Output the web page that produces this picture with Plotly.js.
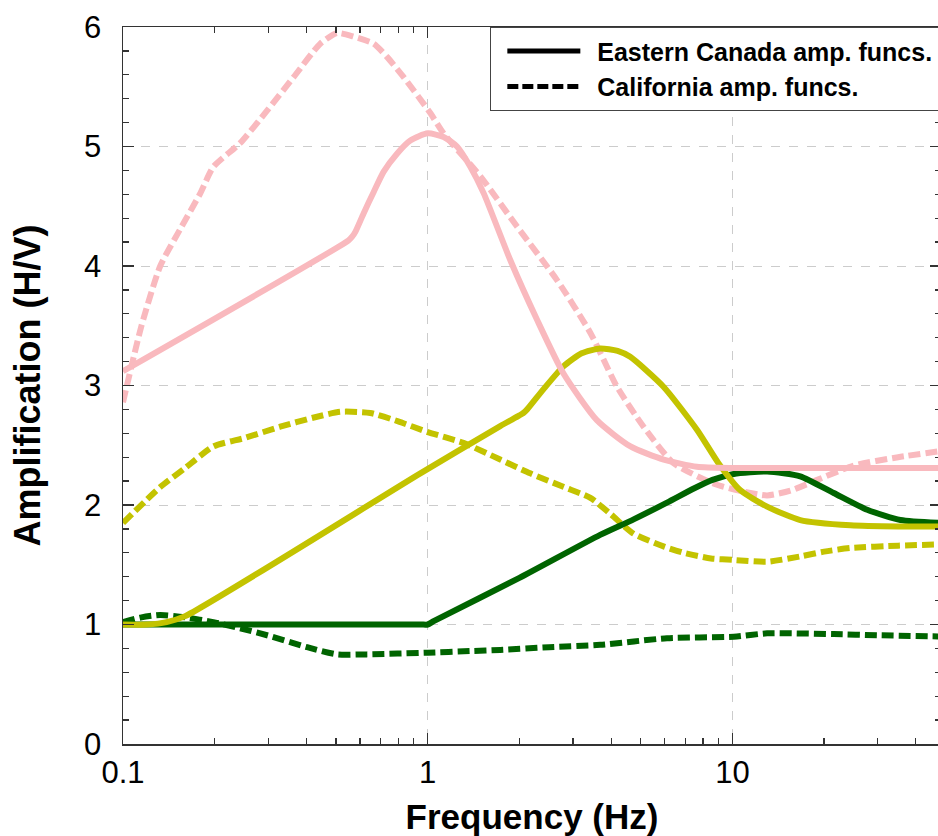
<!DOCTYPE html>
<html>
<head>
<meta charset="utf-8">
<script src="https://cdn.plot.ly/plotly-3.0.1.min.js"></script>
<style>
html,body{margin:0;padding:0;background:#fff;overflow:hidden;}
#chart{width:941px;height:836px;}
</style>
</head>
<body>
<div id="chart"></div>
<script>
// Frequencies (Hz) and amplification (H/V)
const pinkSolidX = [0.1, 0.55, 0.565, 0.58, 0.616, 0.665, 0.717, 0.793, 0.877, 1.0, 1.128, 1.248, 1.38, 1.526, 1.866, 2.285, 2.79, 3.59, 4.63, 5.95, 7.65, 10, 15, 20, 30, 47.8];
const pinkSolidY = [3.12, 4.215, 4.245, 4.29, 4.44, 4.62, 4.79, 4.94, 5.05, 5.11, 5.08, 5.0, 4.83, 4.61, 4.05, 3.55, 3.10, 2.71, 2.49, 2.38, 2.32, 2.31, 2.31, 2.31, 2.31, 2.31];

const pinkDashX = [0.1, 0.115, 0.1325, 0.155, 0.1795, 0.198, 0.2427, 0.297, 0.363, 0.444, 0.504, 0.571, 0.665, 0.735, 0.834, 1.02, 1.127, 1.489, 1.964, 2.66, 3.42, 4.18, 5.11, 6.41, 8.67, 10.5, 13.0, 15.5, 18.97, 25.0, 35, 47.8];
const pinkDashY = [2.86, 3.5, 4.0, 4.32, 4.61, 4.83, 5.03, 5.3, 5.58, 5.86, 5.95, 5.92, 5.86, 5.75, 5.58, 5.28, 5.11, 4.75, 4.33, 3.88, 3.44, 2.99, 2.655, 2.35, 2.18, 2.12, 2.08, 2.12, 2.21, 2.33, 2.40, 2.45];

const yellowSolidX = [0.1, 0.12, 0.139, 0.16, 0.946, 1.73, 2.0, 2.06, 2.12, 2.4, 2.79, 3.2, 3.68, 4.2, 4.62, 5.94, 7.65, 9.0, 10.6, 13.0, 16.7, 24.4, 35, 47.8];
const yellowSolidY = [1.0, 1.0, 1.02, 1.07, 2.265, 2.66, 2.75, 2.77, 2.80, 2.97, 3.16, 3.27, 3.31, 3.29, 3.24, 2.99, 2.63, 2.35, 2.125, 1.986, 1.874, 1.83, 1.82, 1.82];

const yellowDashX = [0.1, 0.1325, 0.16, 0.198, 0.25, 0.328, 0.42, 0.517, 0.648, 0.8, 1.0, 1.31, 1.73, 2.17, 2.8, 3.42, 4.0, 4.74, 6.0, 6.92, 8.5, 10.1, 13.0, 16.7, 20, 24.4, 35, 47.8];
const yellowDashY = [1.85, 2.15, 2.31, 2.49, 2.56, 2.655, 2.73, 2.78, 2.77, 2.70, 2.61, 2.52, 2.38, 2.265, 2.15, 2.06, 1.92, 1.76, 1.65, 1.60, 1.553, 1.54, 1.525, 1.57, 1.61, 1.64, 1.66, 1.67];

const greenSolidX = [0.1, 0.5, 0.95, 1.0, 1.05, 2.0, 3.68, 4.74, 6.1, 7.5, 8.6, 10.1, 13.0, 16.7, 21.5, 27.7, 35.6, 47.8];
const greenSolidY = [1.0, 1.0, 1.0, 1.0, 1.03, 1.39, 1.75, 1.88, 2.02, 2.14, 2.21, 2.26, 2.28, 2.24, 2.10, 1.96, 1.875, 1.85];

const greenDashX = [0.1, 0.115, 0.1325, 0.16, 0.198, 0.25, 0.297, 0.402, 0.504, 0.631, 1.0, 1.38, 1.73, 2.5, 3.68, 6.1, 10.1, 13.0, 21.5, 30, 47.8];
const greenDashY = [1.02, 1.06, 1.08, 1.06, 1.02, 0.96, 0.91, 0.81, 0.75, 0.75, 0.764, 0.778, 0.787, 0.81, 0.83, 0.885, 0.898, 0.926, 0.92, 0.91, 0.90];

const legendNames = ['Eastern Canada amp. funcs.', 'California amp. funcs.'];
const xTickVals = [0.1, 1, 10];
const xTickText = ['0.1', '1', '10'];
const xMinorVals = [0.2,0.3,0.4,0.5,0.6,0.7,0.8,0.9,2,3,4,5,6,7,8,9,20,30,40];

const PINK = '#F9B9BE', YEL = '#C3C300', GRN = '#006400';
const LW = 6;
const DASH = '12px,5px';

function tr(x, y, color, dash) {
  return {x: x, y: y, type: 'scatter', mode: 'lines', showlegend: false, hoverinfo: 'skip',
    line: {color: color, width: LW, dash: dash, shape: 'spline', smoothing: 0.6}};
}

const PAD = '\u00A0\u2009';
const data = [
  tr(greenDashX, greenDashY, GRN, DASH),
  tr(yellowDashX, yellowDashY, YEL, DASH),
  tr(pinkDashX, pinkDashY, PINK, DASH),
  tr(greenSolidX, greenSolidY, GRN, 'solid'),
  tr(yellowSolidX, yellowSolidY, YEL, 'solid'),
  tr(pinkSolidX, pinkSolidY, PINK, 'solid'),
  {x: [null], y: [null], type: 'scatter', mode: 'lines', name: PAD + legendNames[0], line: {color: '#000', width: 5, dash: 'solid'}},
  {x: [null], y: [null], type: 'scatter', mode: 'lines', name: PAD + legendNames[1], line: {color: '#000', width: 5, dash: '11px,4px'}}
];

const FONT = 'Liberation Sans, Arial, Helvetica, sans-serif';
const AX = '#333333';

const layout = {
  width: 941, height: 836,
  margin: {l: 123, r: 0, t: 27, b: 92, pad: 0},
  paper_bgcolor: '#ffffff', plot_bgcolor: '#ffffff',
  font: {family: FONT, color: '#000'},
  showlegend: true,
  legend: {
    x: 0.4487, y: 1, xanchor: 'left', yanchor: 'top',
    bgcolor: '#ffffff', bordercolor: '#444444', borderwidth: 1.3,
    font: {family: FONT, size: 25, weight: 'bold', color: '#000'},
    itemwidth: 73, indentation: 11, traceorder: 'normal', tracegroupgap: 0
  },
  xaxis: {
    type: 'log', range: [-1, 1.6846], autorange: false,
    showline: true, linecolor: AX, linewidth: 1.5, mirror: 'allticks',
    ticks: 'inside', ticklen: 11, tickwidth: 1.3, tickcolor: AX,
    tickmode: 'array', tickvals: xTickVals, ticktext: xTickText,
    tickfont: {family: FONT, size: 31, color: '#000'},
    showgrid: true, gridcolor: '#cccccc', gridwidth: 1, griddash: 'dash',
    minor: {tickmode: 'array', tickvals: xMinorVals, ticks: 'inside', ticklen: 6, tickwidth: 1.3, tickcolor: AX, showgrid: false},
    zeroline: false,
    title: {text: 'Frequency (Hz)', font: {family: FONT, size: 35, weight: 'bold', color: '#000'}, standoff: 18},
    automargin: false
  },
  yaxis: {
    range: [0, 6], autorange: false,
    showline: true, linecolor: AX, linewidth: 1.5, mirror: 'allticks',
    ticks: 'inside', ticklen: 11, tickwidth: 1.3, tickcolor: AX,
    tickmode: 'linear', tick0: 0, dtick: 1,
    tickfont: {family: FONT, size: 31, color: '#000'},
    ticklabelstandoff: 14,
    showgrid: true, gridcolor: '#cccccc', gridwidth: 1, griddash: 'dash',
    minor: {dtick: 0.2, ticks: 'inside', ticklen: 6, tickwidth: 1.3, tickcolor: AX, showgrid: false},
    zeroline: false,
    title: {text: 'Amplification (H/V)', font: {family: FONT, size: 36, weight: 'bold', color: '#000'}, standoff: 32},
    automargin: false
  }
};

Plotly.newPlot('chart', data, layout, {staticPlot: true, displayModeBar: false});
</script>
</body>
</html>
